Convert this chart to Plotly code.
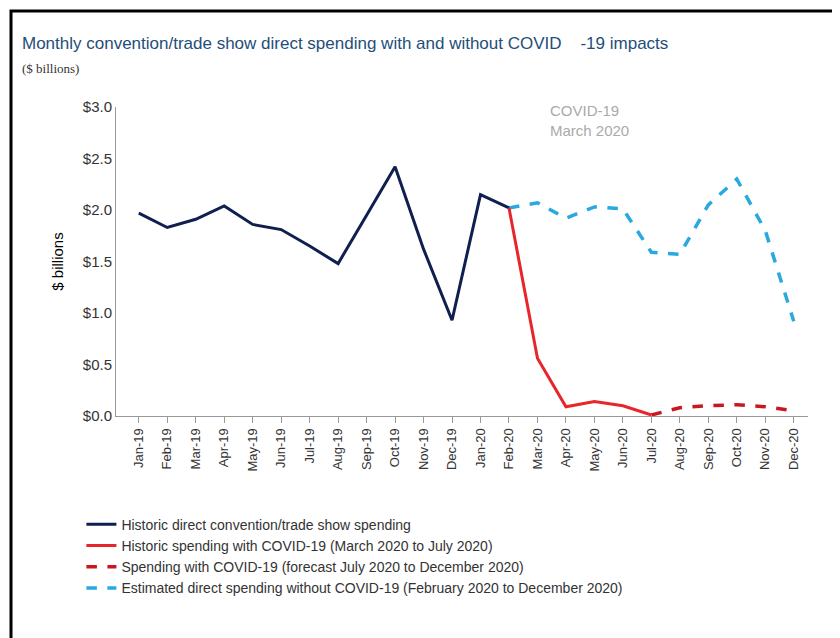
import plotly.graph_objs as go

months = ["Jan-19", "Feb-19", "Mar-19", "Apr-19", "May-19", "Jun-19", "Jul-19", "Aug-19",
          "Sep-19", "Oct-19", "Nov-19", "Dec-19", "Jan-20", "Feb-20", "Mar-20", "Apr-20",
          "May-20", "Jun-20", "Jul-20", "Aug-20", "Sep-20", "Oct-20", "Nov-20", "Dec-20"]

hist_months = months[:14]
hist_values = [1.97, 1.83, 1.91, 2.04, 1.86, 1.81, 1.65, 1.48, 1.95, 2.42, 1.62, 0.93, 2.15, 2.02]

covid_months = months[13:19]
covid_values = [2.02, 0.56, 0.09, 0.14, 0.10, 0.01]

forecast_months = months[18:]
forecast_values = [0.01, 0.08, 0.10, 0.11, 0.09, 0.05]

nocovid_months = months[13:]
nocovid_values = [2.02, 2.07, 1.92, 2.03, 2.01, 1.59, 1.57, 2.05, 2.30, 1.80, 0.92]

fig = go.Figure()
fig.add_trace(go.Scatter(x=nocovid_months, y=nocovid_values, mode="lines", legendrank=4,
                         line=dict(color="#29a9e0", width=3.5, dash="dash"),
                         name="Estimated direct spending without COVID-19 (February 2020 to December 2020)"))
fig.add_trace(go.Scatter(x=hist_months, y=hist_values, mode="lines", legendrank=1,
                         line=dict(color="#0f1f4f", width=3),
                         name="Historic direct convention/trade show spending"))
fig.add_trace(go.Scatter(x=covid_months, y=covid_values, mode="lines", legendrank=2,
                         line=dict(color="#e8262a", width=3),
                         name="Historic spending with COVID-19 (March 2020 to July 2020)"))
fig.add_trace(go.Scatter(x=forecast_months, y=forecast_values, mode="lines", legendrank=3,
                         line=dict(color="#c8181e", width=3.5, dash="dash"),
                         name="Spending with COVID-19 (forecast July 2020 to December 2020)"))

fig.update_layout(
    width=840, height=638,
    margin=dict(l=108, r=40, t=99, b=230, autoexpand=False),
    plot_bgcolor="white", paper_bgcolor="white",
    font=dict(family="Liberation Sans, Arial", color="#333333"),
    showlegend=True,
    legend=dict(x=-0.05, y=-0.3, xanchor="left", yanchor="top", font=dict(size=14),
                tracegroupgap=0),
    xaxis=dict(categoryorder="array", categoryarray=months, tickangle=-90,
               showline=True, linecolor="#999999", ticks="outside", ticklen=6,
               tickcolor="#999999", showgrid=False, tickfont=dict(size=13),
               range=[-0.8, 23.5]),
    yaxis=dict(range=[0, 3.0], dtick=0.5, tickformat="$.1f", showgrid=False,
               showline=True, linecolor="#999999", tickfont=dict(size=15),
               title=dict(text="$ billions", font=dict(size=15, color="black")),
               zeroline=False),
    shapes=[dict(type="rect", xref="paper", yref="paper",
                 x0=(3 - 108) / 692, x1=(837 - 108) / 692,
                 y0=(408 - 635) / 309, y1=(408 - 3) / 309,
                 line=dict(color="black", width=3))],
    annotations=[
        dict(text="Monthly convention/trade show direct spending with and without COVID    -19 impacts",
             xref="paper", yref="paper", x=(12 - 108) / 692, y=(408 - 35) / 309,
             xanchor="left", yanchor="middle", showarrow=False,
             font=dict(size=17, color="#1f4e79")),
        dict(text="($ billions)", xref="paper", yref="paper", x=(12 - 108) / 692,
             y=(408 - 60) / 309, xanchor="left", yanchor="middle", showarrow=False,
             font=dict(size=13, color="#333333", family="Liberation Serif")),
        dict(text="COVID-19<br>March 2020", xref="paper", yref="paper",
             x=(540 - 108) / 692, y=(408 - 92) / 309, xanchor="left", yanchor="top",
             align="left", showarrow=False, font=dict(size=15, color="#aaaaaa")),
    ],
)
fig.write_html("out.html")
